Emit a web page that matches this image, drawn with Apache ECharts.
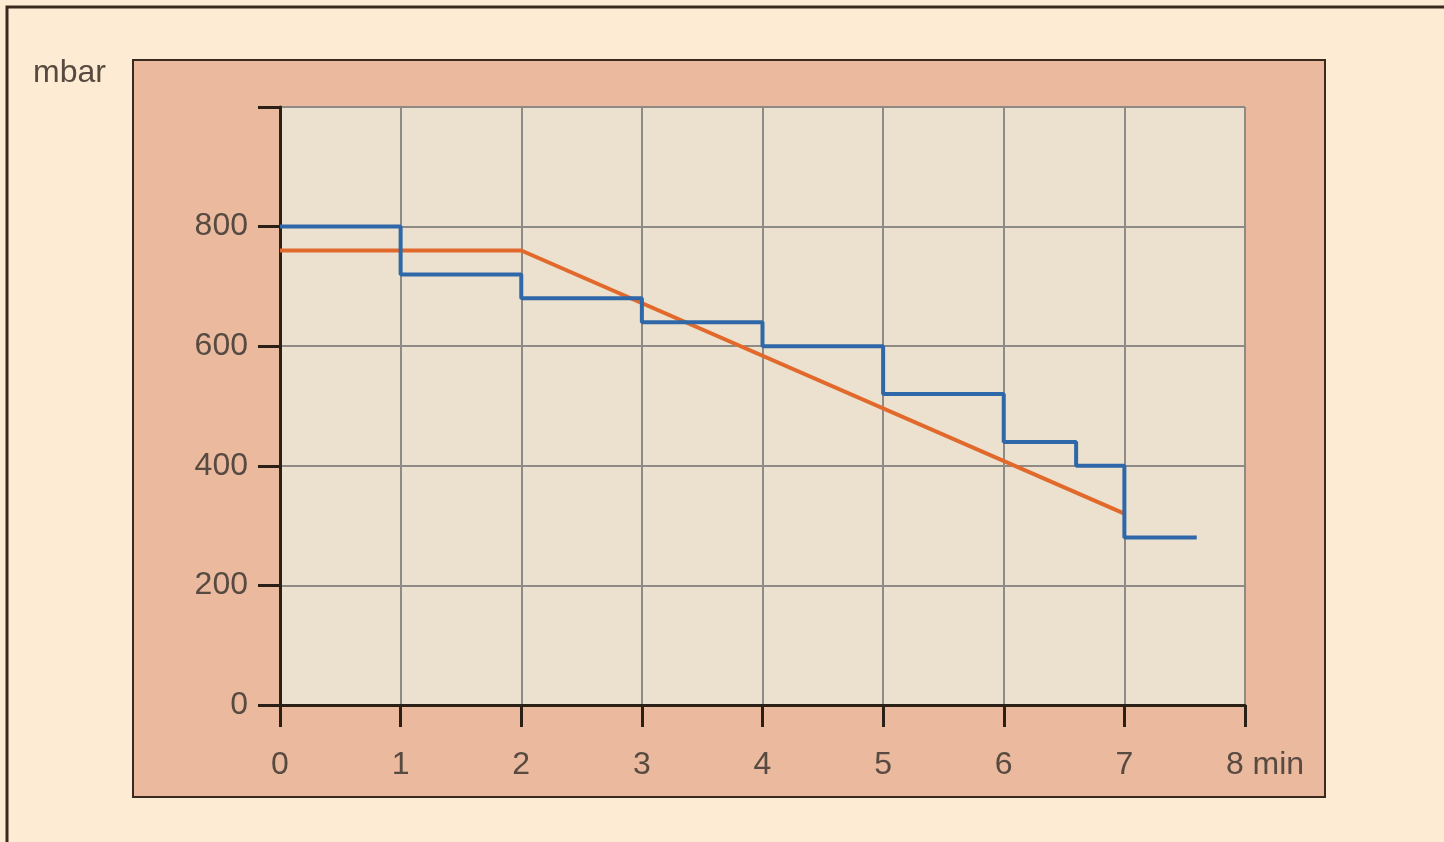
<!DOCTYPE html>
<html>
<head>
<meta charset="utf-8">
<script src="https://cdn.jsdelivr.net/npm/echarts@6/dist/echarts.min.js"></script>
<style>
html,body{margin:0;padding:0;background:#fdebd4;}
#c{width:1444px;height:842px;}
</style>
</head>
<body>
<div id="c"></div>
<script>
// Data
const xTicks = [0,1,2,3,4,5,6,7,8];
const yTicks = [0,200,400,600,800,1000];
const stepX = [0,1,2,3,4,5,6,6.6,7,7.6];
const stepY = [800,720,680,640,600,520,440,400,280,280];
const rampX = [0,2,7];
const rampY = [760,760,320];

const chart = echarts.init(document.getElementById('c'));
const font = 'Liberation Sans, Arial, sans-serif';
const txt = '#574a40';
chart.setOption({
  backgroundColor: '#fdebd4',
  animation: false,
  graphic: [
    {type:'rect', shape:{x:7,y:7,width:1500,height:900}, style:{fill:'#fdebd4', stroke:'#3a2a1e', lineWidth:3}, z:-10},
    {type:'rect', shape:{x:133,y:60,width:1192,height:737}, style:{fill:'#eab99e', stroke:'#3a2a1e', lineWidth:2}, z:-9}
  ],
  title: {text:'mbar', left:28, top:52, textStyle:{fontFamily:font, fontSize:32, fontWeight:'normal', color:txt}},
  grid: {left:280, top:107, right:199, bottom:137, show:true, backgroundColor:'#ece0ce', borderWidth:0},
  xAxis: {
    type:'value', min:0, max:8, interval:1,
    axisLine:{lineStyle:{color:'#2b2016', width:3}},
    axisTick:{show:true, length:22, lineStyle:{color:'#2b2016', width:3}},
    splitLine:{show:true, lineStyle:{color:'#8e8a86', width:2}},
    axisLabel:{fontFamily:font, fontSize:32, color:txt, margin:44,
      formatter: v => v === 8 ? '{last|8 min}' : String(v),
      rich:{last:{fontFamily:font, fontSize:32, color:txt, padding:[0,0,0,40]}}}
  },
  yAxis: {
    type:'value', min:0, max:1000, interval:200,
    axisLine:{show:true, lineStyle:{color:'#2b2016', width:3}},
    axisTick:{show:true, length:22, lineStyle:{color:'#2b2016', width:3}},
    splitLine:{show:true, lineStyle:{color:'#8e8a86', width:2}},
    axisLabel:{fontFamily:font, fontSize:32, color:txt, margin:32,
      formatter: v => v === 1000 ? '' : String(v)}
  },
  series: [
    {type:'line', data: rampX.map((x,i)=>[x,rampY[i]]), showSymbol:false,
      lineStyle:{color:'#e2692c', width:4}, z:3},
    {type:'line', step:'end', data: stepX.map((x,i)=>[x,stepY[i]]), showSymbol:false,
      lineStyle:{color:'#2f68a8', width:4}, z:4}
  ]
});
</script>
</body>
</html>
